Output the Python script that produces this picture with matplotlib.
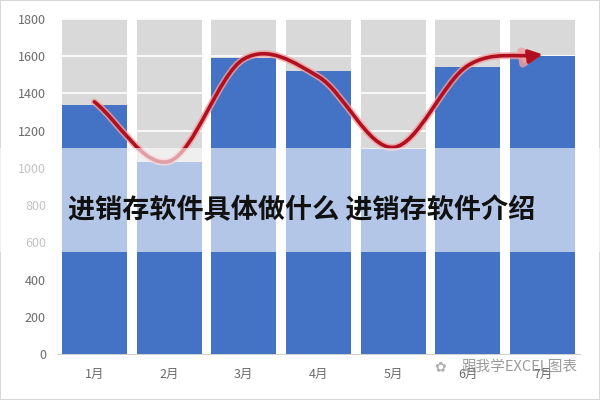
import matplotlib
matplotlib.use("Agg")
import numpy as np
import matplotlib.pyplot as plt
from matplotlib.path import Path
from matplotlib.patches import FancyArrowPatch, Rectangle

plt.rcParams['font.family'] = ['Noto Sans CJK SC', 'DejaVu Sans']

months = ['1月', '2月', '3月', '4月', '5月', '6月', '7月']
sales = [1340, 1030, 1590, 1520, 1100, 1540, 1600]
bg_max = [1800] * 7
# hand-drawn trend arrow, read at each month centre
trend = [1355, 1035, 1585, 1490, 1110, 1550, 1610]
yticks = [0, 200, 400, 600, 800, 1000, 1200, 1400, 1600, 1800]
title = '进销存软件具体做什么 进销存软件介绍'
watermark = '跟我学EXCEL图表'

fig = plt.figure(figsize=(6, 4), dpi=100)
fig.patch.set_facecolor('white')
ax = fig.add_axes([57 / 600, 1 - 354 / 400, 523 / 600, 335 / 400])

x = np.arange(1, len(months) + 1)
ax.bar(x, bg_max, width=0.87, color='#D9D9D9', zorder=1)
ax.bar(x, sales, width=0.87, color='#4472C4', zorder=3)
ax.set_xlim(0.5, 7.5)
ax.set_ylim(0, 1800)
ax.set_yticks(yticks)
ax.set_xticks(x)
ax.set_xticklabels(months)
ax.grid(axis='y', color='white', linewidth=1.2, zorder=2)
ax.set_axisbelow(False)
for s in ['top', 'right', 'left']:
    ax.spines[s].set_visible(False)
ax.spines['bottom'].set_color('#D0D0D0')
ax.tick_params(length=0, colors='#6b6b6b', labelsize=9)
ax.tick_params(axis='y', pad=8)
ax.tick_params(axis='x', pad=10)

# smooth curve (Excel-style) through the trend points, as a bezier path
pts = np.column_stack([x, trend]).astype(float)
n = len(pts)
tang = np.zeros_like(pts)
for i in range(n):
    if i == 0:
        tang[i] = pts[1] - pts[0]
    elif i == n - 1:
        tang[i] = pts[-1] - pts[-2]
    else:
        tang[i] = (pts[i + 1] - pts[i - 1]) / 2
verts = [pts[0]]
codes = [Path.MOVETO]
for i in range(n - 1):
    verts += [pts[i] + tang[i] / 3, pts[i + 1] - tang[i + 1] / 3, pts[i + 1]]
    codes += [Path.CURVE4] * 3
curve = Path(verts, codes)

glow = FancyArrowPatch(path=curve, arrowstyle='-|>', mutation_scale=24,
                       color='#F2A0A0', linewidth=5, alpha=0.8, zorder=4)
ax.add_patch(glow)
line = FancyArrowPatch(path=curve, arrowstyle='-|>', mutation_scale=20,
                       color='#B01020', linewidth=2.6, zorder=5)
ax.add_patch(line)

# white translucent band across the whole picture
band = Rectangle((0, 1 - 252 / 400), 1, 104 / 400, transform=fig.transFigure,
                 facecolor='white', alpha=0.6, edgecolor='none', zorder=10)
fig.patches.append(band)

fig.text(68 / 600, 1 - 210 / 400, title, fontsize=19.5, fontweight='heavy',
         color='#111111', va='center', ha='left', zorder=11)
fig.text(461 / 600, 1 - 367 / 400, watermark, fontsize=10.5, color='#8a8a8a',
         alpha=0.85, va='center', ha='left', zorder=11)
fig.text(434 / 600, 1 - 367 / 400, '✿', fontsize=10, color='#9a9a9a',
         alpha=0.8, va='center', ha='left', family=['DejaVu Sans'], zorder=11)

fig.patches.append(Rectangle((0, 0), 1, 1, transform=fig.transFigure,
                             fill=False, edgecolor='#D8D8D8', linewidth=1.5))

fig.savefig('out.png', dpi=100)
